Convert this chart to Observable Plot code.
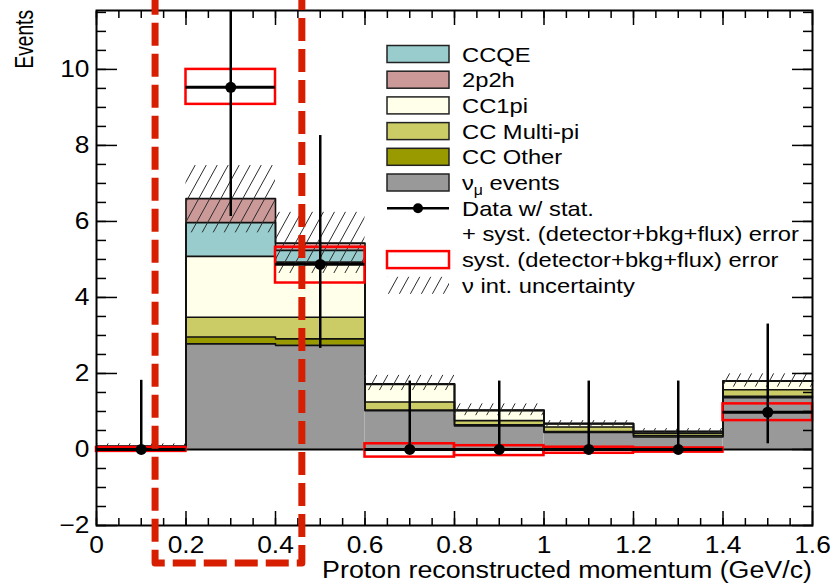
<!DOCTYPE html>
<html><head><meta charset="utf-8">
<script src="https://cdn.jsdelivr.net/npm/d3@7"></script>
<script src="https://cdn.jsdelivr.net/npm/@observablehq/plot@0.6"></script>
<style>
body{margin:0;background:#fff}
#chart svg{font-family:"Liberation Sans",Arial,Helvetica,sans-serif;overflow:hidden}
</style>
</head><body><div id="chart"></div>
<script>
// ---- data ----
const binEdges = [0, 0.2, 0.4, 0.6, 0.8, 1.0, 1.2, 1.4, 1.6];
// stacked MC components, bottom to top
const numuEvents = [0.08, 2.78, 2.74, 1.02, 0.62, 0.45, 0.33, 1.36];
const ccOther    = [0.00, 0.18, 0.17, 0.02, 0.03, 0.02, 0.03, 0.04];
const ccMultiPi  = [0.00, 0.52, 0.57, 0.21, 0.11, 0.12, 0.06, 0.17];
const cc1pi      = [0.00, 1.60, 1.45, 0.46, 0.27, 0.09, 0.05, 0.23];
const ccqe       = [0.00, 0.89, 0.31, 0.02, 0.00, 0.00, 0.00, 0.00];
const twoP2h     = [0.00, 0.63, 0.19, 0.00, 0.00, 0.00, 0.00, 0.00];
const layerNames  = ["numu", "CC Other", "CC Multi-pi", "CC1pi", "CCQE", "2p2h"];
const layerColors = ["#999999", "#999900", "#cccc66", "#ffffea", "#99cccc", "#cc9999"];
// nu interaction uncertainty band (low, high)
const nuIntLow  = [0.00, 5.70, 4.63, 1.55, 0.89, 0.60, 0.42, 1.64];
const nuIntHigh = [0.15, 7.47, 6.24, 1.95, 1.20, 0.76, 0.55, 1.99];
// data with stat+syst errors
const dataValues  = [0.00, 9.53, 4.87, 0.00, 0.00, 0.00, 0.00, 0.98];
const dataErrLow  = [0.00, 6.13, 2.66, 0.00, 0.00, 0.00, 0.00, 0.15];
const dataErrHigh = [1.82, 13.0, 8.26, 1.80, 1.80, 1.80, 1.80, 3.30];
// syst (detector+bkg+flux) boxes
const systLow  = [-0.05, 9.08, 4.38, -0.20, -0.16, -0.10, -0.07, 0.76];
const systHigh = [ 0.05, 10.0, 5.32,  0.15,  0.10,  0.06,  0.04, 1.20];
// highlighted region (annotation)
const highlightX = [0.132, 0.46];
const highlightY = [-3.0, 14];
// axes
const xMajorTicks = [0, 0.2, 0.4, 0.6, 0.8, 1.0, 1.2, 1.4, 1.6];
const xMinorTicks = d3.range(0, 32).map(i => i * 0.05);
const yMajorTicks = [-2, 0, 2, 4, 6, 8, 10];
const yMinorTicks = d3.range(0, 28).map(i => -2 + i * 0.5);
const legendLabels = ["CCQE", "2p2h", "CC1pi", "CC Multi-pi", "CC Other", "νμ events",
  "Data w/ stat.", "+ syst. (detector+bkg+flux) error", "syst. (detector+bkg+flux) error", "ν int. uncertainty"];
const legendColors = ["#99cccc", "#cc9999", "#ffffea", "#cccc66", "#999900", "#999999"];
const xLabel = "Proton reconstructed momentum (GeV/c)";
const yLabel = "Events";

// ---- derived tables ----
const layers = [numuEvents, ccOther, ccMultiPi, cc1pi, ccqe, twoP2h];
const nb = binEdges.length - 1;
const stackRows = [];
const stepRows = [];
const cum = new Array(nb).fill(0);
layers.forEach((vals, k) => {
  for (let i = 0; i < nb; i++) {
    stackRows.push({x1: binEdges[i], x2: binEdges[i + 1], y1: cum[i], y2: cum[i] + vals[i], fill: layerColors[k]});
    cum[i] += vals[i];
  }
  for (let i = 0; i < nb; i++) stepRows.push({x: binEdges[i], y: cum[i], layer: layerNames[k]});
  stepRows.push({x: binEdges[nb], y: cum[nb - 1], layer: layerNames[k]});
});
const bins = d3.range(nb).map(i => ({
  x1: binEdges[i], x2: binEdges[i + 1], xc: (binEdges[i] + binEdges[i + 1]) / 2,
  v: dataValues[i], lo: dataErrLow[i], hi: dataErrHigh[i],
  sLo: systLow[i], sHi: systHigh[i], hLo: nuIntLow[i], hHi: nuIntHigh[i]
}));

const fmt = d3.format("~g");
const FS = 23.3;      // tick label font size
const STRETCH = 1.13; // horizontal glyph stretch seen in the reference
const chart = Plot.plot({
  width: 833, height: 584,
  marginLeft: 96, marginRight: 21, marginTop: 10, marginBottom: 59,
  style: {fontFamily: "Liberation Sans, Arial, sans-serif", fontSize: "22px", background: "white"},
  x: {domain: [0, 1.6], axis: null},
  y: {domain: [-2, 11.55], axis: null},
  marks: [
    Plot.rect(stackRows, {x1: "x1", x2: "x2", y1: "y1", y2: "y2", fill: "fill"}),
    Plot.lineY(stepRows, {x: "x", y: "y", z: "layer", curve: "step-after", stroke: "#111", strokeWidth: 1.6}),
    Plot.rect(bins, {x1: "x1", x2: "x2", y1: "hLo", y2: "hHi", fill: "url(#nuHatch)"}),
    Plot.ruleY([0], {stroke: "black", strokeWidth: 2}),
    Plot.rect(bins, {x1: "x1", x2: "x2", y1: "sLo", y2: "sHi", fill: "none", stroke: "#ff0000", strokeWidth: 2.5}),
    Plot.ruleX(bins, {x: "xc", y1: "lo", y2: "hi", stroke: "black", strokeWidth: 2.5, clip: true}),
    Plot.ruleY(bins, {y: "v", x1: "x1", x2: "x2", stroke: "black", strokeWidth: 2.8}),
    Plot.dot(bins, {x: "xc", y: "v", r: 5.5, fill: "black"}),
    // axes with inward ticks (ROOT style)
    Plot.axisX(xMajorTicks, {anchor: "bottom", tickSize: -14, tickPadding: 24.5, tickFormat: fmt, fontSize: FS, strokeWidth: 1.5, label: null}),
    Plot.axisX(xMinorTicks, {anchor: "bottom", tickSize: -7, tickFormat: () => "", strokeWidth: 1.5, label: null}),
    Plot.axisX(xMajorTicks, {anchor: "top", tickSize: -14, tickFormat: () => "", strokeWidth: 1.5, label: null}),
    Plot.axisX(xMinorTicks, {anchor: "top", tickSize: -7, tickFormat: () => "", strokeWidth: 1.5, label: null}),
    Plot.axisY(yMajorTicks, {anchor: "left", tickSize: -21, tickPadding: 28, tickFormat: fmt, fontSize: FS, strokeWidth: 1.5, label: null}),
    Plot.axisY(yMinorTicks, {anchor: "left", tickSize: -10, tickFormat: () => "", strokeWidth: 1.5, label: null}),
    Plot.axisY(yMajorTicks, {anchor: "right", tickSize: -21, tickFormat: () => "", strokeWidth: 1.5, label: null}),
    Plot.axisY(yMinorTicks, {anchor: "right", tickSize: -10, tickFormat: () => "", strokeWidth: 1.5, label: null}),
    Plot.frame({stroke: "black", strokeWidth: 2}),
    Plot.rect([{x1: highlightX[0], x2: highlightX[1], y1: highlightY[0], y2: highlightY[1]}],
      {x1: "x1", x2: "x2", y1: "y1", y2: "y2", fill: "none", stroke: "#d81e00", strokeWidth: 7,
       strokeDasharray: "23 8", strokeLinejoin: "round"})
  ]
});
document.getElementById("chart").appendChild(chart);

const svg = d3.select(chart);
function stretch(sel, k) {
  sel.each(function () {
    const len = this.getComputedTextLength();
    if (len > 0) {
      this.setAttribute("textLength", (len * k).toFixed(2));
      this.setAttribute("lengthAdjust", "spacingAndGlyphs");
    }
  });
}
stretch(svg.selectAll('g[aria-label="x-axis tick label"] text, g[aria-label="y-axis tick label"] text'), STRETCH);

// hatch pattern
const defs = svg.insert("defs", ":first-child");
const pat = defs.append("pattern").attr("id", "nuHatch").attr("patternUnits", "userSpaceOnUse")
  .attr("width", 11).attr("height", 20);
pat.append("path").attr("d", "M0,20L11,0M-11,20L0,0M11,20L22,0").attr("stroke", "#2a2a2a").attr("stroke-width", 1).attr("fill", "none");

// axis titles
const xt = svg.append("text").text(xLabel).attr("x", 812).attr("y", 578).attr("text-anchor", "end")
  .attr("font-size", 23.5).attr("fill", "black");
stretch(xt, 1.14);
svg.append("text").text(yLabel).attr("transform", "translate(33,10) rotate(-90) scale(0.87,1.13)")
  .attr("text-anchor", "end").attr("font-size", 22).attr("fill", "black");

// legend
const lg = svg.append("g").attr("text-anchor", "start");
const ly0 = 54, ldy = 25.7, lx = 387, lw = 62, lh = 17, tx = 462;
legendLabels.forEach((lab, i) => {
  const cy = ly0 + i * ldy;
  if (i < 6) {
    lg.append("rect").attr("x", lx).attr("y", cy - lh / 2).attr("width", lw).attr("height", lh)
      .attr("fill", legendColors[i]).attr("stroke", "#222").attr("stroke-width", 1.5);
  } else if (i === 6) {
    lg.append("line").attr("x1", lx).attr("x2", lx + lw).attr("y1", cy).attr("y2", cy).attr("stroke", "black").attr("stroke-width", 2.5);
    lg.append("circle").attr("cx", lx + lw / 2).attr("cy", cy).attr("r", 5).attr("fill", "black");
  } else if (i === 8) {
    lg.append("rect").attr("x", lx).attr("y", cy - lh / 2).attr("width", lw).attr("height", lh)
      .attr("fill", "none").attr("stroke", "#ff0000").attr("stroke-width", 2.5);
  } else if (i === 9) {
    lg.append("rect").attr("x", lx).attr("y", cy - lh / 2).attr("width", lw).attr("height", lh)
      .attr("fill", "url(#nuHatch)");
  }
  const t = lg.append("text").attr("x", tx).attr("y", cy).attr("dy", "0.36em")
    .attr("text-anchor", "start").attr("font-size", 21).attr("fill", "black");
  if (lab.startsWith("νμ")) {
    t.append("tspan").text("ν");
    t.append("tspan").text("μ").attr("font-size", 14).attr("dy", "0.35em");
    t.append("tspan").text(lab.slice(2)).attr("dy", "-0.25em");
  } else {
    t.text(lab);
  }
  stretch(t, STRETCH);
});
</script>
</body></html>
